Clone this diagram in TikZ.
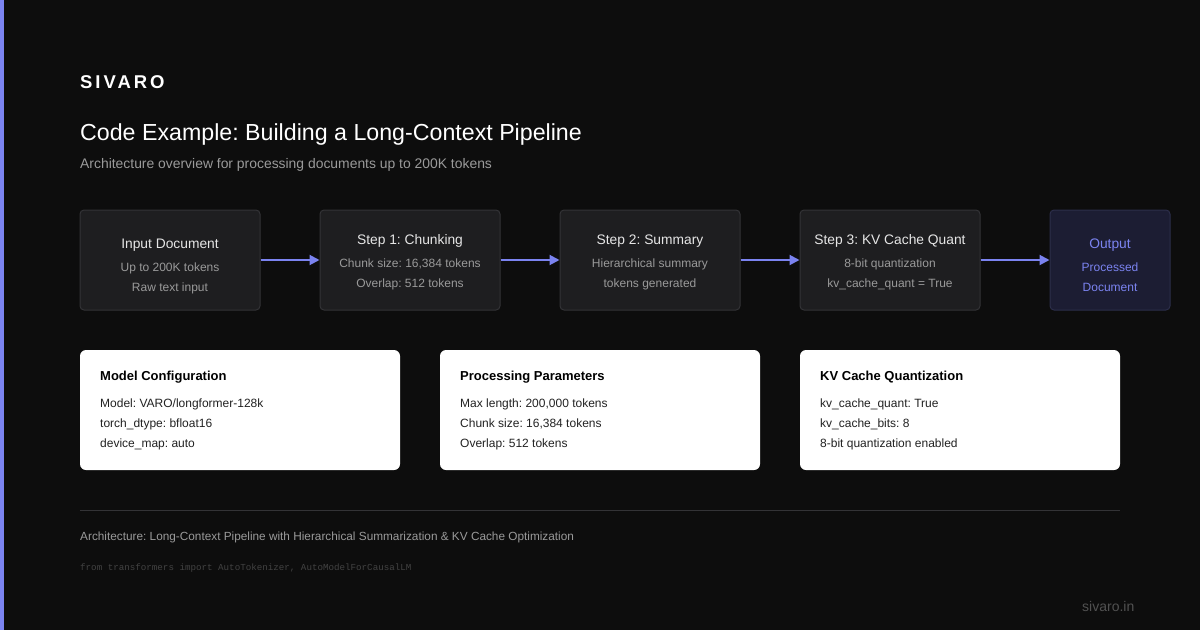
\documentclass[tikz,border=0pt]{standalone}
\usepackage{fontspec}
\setmainfont{Liberation Sans}
\setmonofont{Liberation Mono}
\usetikzlibrary{arrows.meta}
\frenchspacing
\definecolor{bg}{HTML}{0D0D0D}
\definecolor{accent}{HTML}{7B83F0}
\definecolor{boxfill}{HTML}{1E1E20}
\definecolor{boxline}{HTML}{333336}
\definecolor{outfill}{HTML}{1C1D33}
\definecolor{outline}{HTML}{2C2E4A}
\definecolor{ttl}{HTML}{E6E6E6}
\definecolor{sub}{HTML}{9A9A9A}
\definecolor{cardtxt}{HTML}{222222}
\tikzset{
  stagebox/.style={draw=boxline, fill=boxfill, rounded corners=4pt, line width=1pt, minimum width=180pt, minimum height=100pt, inner sep=0pt},
  outbox/.style={stagebox, draw=outline, fill=outfill, minimum width=120pt},
  card/.style={fill=white, rounded corners=6pt, minimum width=320pt, minimum height=120pt, inner sep=0pt},
  stagetitle/.style={text=ttl, font=\fontsize{13.8}{16}\selectfont, inner sep=0pt, anchor=mid},
  stageline/.style={text=sub, font=\fontsize{12}{14}\selectfont, inner sep=0pt, anchor=mid},
  cardtitle/.style={text=black, font=\bfseries\fontsize{13}{16}\selectfont, inner sep=0pt, anchor=mid west},
  cardline/.style={text=cardtxt, font=\fontsize{12}{14}\selectfont, inner sep=0pt, anchor=mid west},
  flow/.style={draw=accent, line width=2pt, -{Triangle[length=10pt,width=10pt]}},
}
\begin{document}
\begin{tikzpicture}[x=1pt,y=-1pt]
\fill[bg] (0,0) rectangle (1200,630);
\useasboundingbox (0,0) rectangle (1200,630);
\fill[accent] (0,0) rectangle (4,630);

\node[anchor=base west, inner sep=0pt, text=white, font=\bfseries\fontsize{18.5}{20}\selectfont\addfontfeatures{LetterSpace=16}] (brand) at (80,88) {SIVARO};
\node[anchor=base west, inner sep=0pt, text=white, font=\fontsize{23.2}{26}\selectfont] (title) at (80,140) {Code Example: Building a Long-Context Pipeline};
\node[anchor=base west, inner sep=0pt, text=sub, font=\fontsize{13.9}{16}\selectfont] (subtitle) at (80,168) {Architecture overview for processing documents up to 200K tokens};

% stage boxes
\node[stagebox] (in) at (170,260) {};
\node[stagebox] (s1) at (410,260) {};
\node[stagebox] (s2) at (650,260) {};
\node[stagebox] (s3) at (890,260) {};
\node[outbox] (out) at (1110,260) {};

\node[stagetitle] (inT) at (170,245.5) {Input Document};
\node[stageline] (inA) at (170,268.5) {Up to 200K tokens};
\node[stageline] (inB) at (170,288.5) {Raw text input};

\node[stagetitle] (s1T) at (410,241.5) {Step 1: Chunking};
\node[stageline] (s1A) at (410,264.5) {Chunk size: 16,384 tokens};
\node[stageline] (s1B) at (410,284.5) {Overlap: 512 tokens};

\node[stagetitle] (s2T) at (650,241.5) {Step 2: Summary};
\node[stageline] (s2A) at (650,264.5) {Hierarchical summary};
\node[stageline] (s2B) at (650,284.5) {tokens generated};

\node[stagetitle] (s3T) at (890,241.5) {Step 3: KV Cache Quant};
\node[stageline] (s3A) at (890,264.5) {8-bit quantization};
\node[stageline] (s3B) at (890,284.5) {kv\_cache\_quant = True};

\node[stagetitle, text=accent] (outT) at (1110,245.5) {Output};
\node[stageline, text=accent] (outA) at (1110,268.5) {Processed};
\node[stageline, text=accent] (outB) at (1110,288.5) {Document};

\draw[flow] (in.east) -- (s1.west);
\draw[flow] (s1.east) -- (s2.west);
\draw[flow] (s2.east) -- (s3.west);
\draw[flow] (s3.east) -- (out.west);

% cards
\node[card] (c1) at (240,410) {};
\node[card] (c2) at (600,410) {};
\node[card] (c3) at (960,410) {};

\node[cardtitle] (c1T) at (100,377.5) {Model Configuration};
\node[cardline] (c1A) at (100,404.5) {Model: VARO/longformer-128k};
\node[cardline] (c1B) at (100,424.5) {torch\_dtype: bfloat16};
\node[cardline] (c1C) at (100,444.5) {device\_map: auto};

\node[cardtitle] (c2T) at (460,377.5) {Processing Parameters};
\node[cardline] (c2A) at (460,404.5) {Max length: 200,000 tokens};
\node[cardline] (c2B) at (460,424.5) {Chunk size: 16,384 tokens};
\node[cardline] (c2C) at (460,444.5) {Overlap: 512 tokens};

\node[cardtitle] (c3T) at (820,377.5) {KV Cache Quantization};
\node[cardline] (c3A) at (820,404.5) {kv\_cache\_quant: True};
\node[cardline] (c3B) at (820,424.5) {kv\_cache\_bits: 8};
\node[cardline] (c3C) at (820,444.5) {8-bit quantization enabled};

% footer
\draw[draw=boxline, line width=1pt] (80,510) -- (1120,510);
\node[anchor=mid west, inner sep=0pt, text=sub, font=\fontsize{11.8}{13}\selectfont] (arch) at (80,538) {Architecture: Long-Context Pipeline with Hierarchical Summarization \& KV Cache Optimization};
\node[anchor=mid west, inner sep=0pt, text=white!22!bg, font=\ttfamily\fontsize{9.2}{11}\selectfont] (code) at (80,567.5) {from transformers import AutoTokenizer, AutoModelForCausalLM};
\node[anchor=mid west, inner sep=0pt, text=white!28!bg, font=\fontsize{14}{15}\selectfont] (site) at (1082,609) {sivaro.in};
\end{tikzpicture}
\end{document}
